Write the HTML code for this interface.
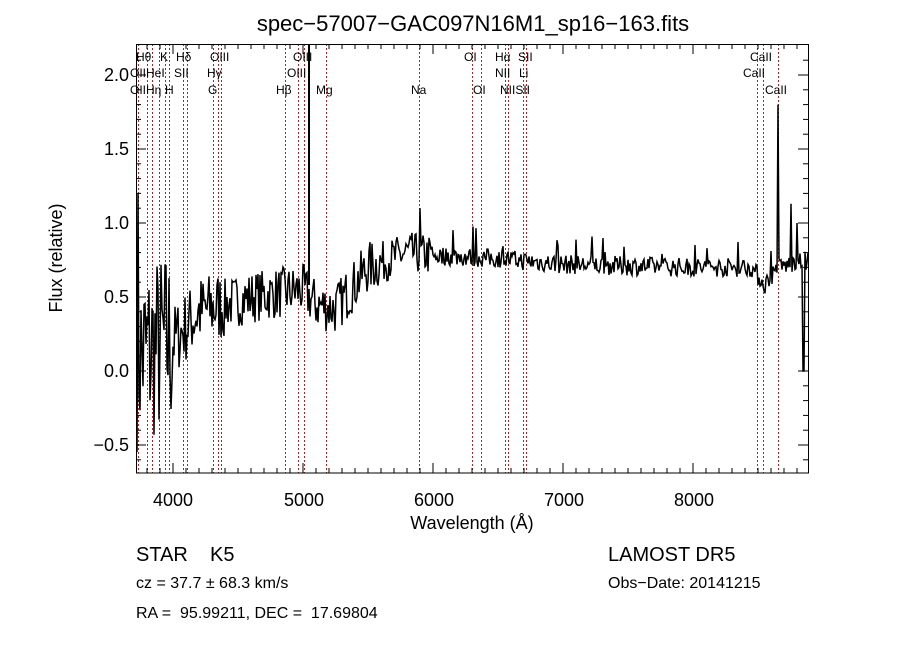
<!DOCTYPE html>
<html><head><meta charset="utf-8"><style>
body{margin:0;background:#fff;width:900px;height:649px;overflow:hidden}
svg text{font-family:"Liberation Sans",sans-serif;fill:#000}
</style></head><body>
<svg id="s" width="900" height="649" xmlns="http://www.w3.org/2000/svg">
<text x="473" y="31" font-size="22" text-anchor="middle">spec−57007−GAC097N16M1_sp16−163.fits</text>
<g id="lines" stroke="#b22222" stroke-width="1" stroke-dasharray="2,2"></g>
<path id="spec" fill="none" stroke="#000" stroke-width="1.5"/>
<line x1="309" y1="44" x2="309" y2="285" stroke="#000" stroke-width="2"/>
<rect x="136.5" y="44.5" width="672" height="428.5" fill="none" stroke="#000" stroke-width="1"/>
<g id="ticks" stroke="#000" stroke-width="1"></g>
<g font-size="18">
<text x="173" y="506" text-anchor="middle">4000</text>
<text x="304" y="506" text-anchor="middle">5000</text>
<text x="434" y="506" text-anchor="middle">6000</text>
<text x="564" y="506" text-anchor="middle">7000</text>
<text x="694" y="506" text-anchor="middle">8000</text>
<text x="129" y="81" text-anchor="end">2.0</text>
<text x="129" y="155" text-anchor="end">1.5</text>
<text x="129" y="229" text-anchor="end">1.0</text>
<text x="129" y="303" text-anchor="end">0.5</text>
<text x="129" y="377" text-anchor="end">0.0</text>
<text x="129" y="451" text-anchor="end">−0.5</text>
<text x="472" y="529" text-anchor="middle">Wavelength (Å)</text>
<text transform="translate(62,258) rotate(-90)" text-anchor="middle">Flux (relative)</text>
</g>
<g font-size="12">
<text x="136" y="61">Hθ</text><text x="160" y="61">K</text><text x="176" y="61">Hδ</text><text x="210" y="61">OIII</text>
<text x="293" y="61">OIII</text><text x="464" y="61">OI</text><text x="495" y="61">Hα</text><text x="518" y="61">SII</text>
<text x="750" y="61">CaII</text>
<text x="130" y="77">OIIHeI</text><text x="174" y="77">SII</text><text x="207" y="77">Hγ</text><text x="287" y="77">OIII</text>
<text x="495" y="77">NII</text><text x="519" y="77">Li</text><text x="743" y="77">CaII</text>
<text x="130" y="94">OIIHη</text><text x="165" y="94">H</text><text x="208" y="94">G</text><text x="276" y="94">Hβ</text>
<text x="316" y="94">Mg</text><text x="411" y="94">Na</text><text x="473" y="94">OI</text><text x="500" y="94">NIISII</text>
<text x="765" y="94">CaII</text>
</g>
<g font-size="20"><text x="136" y="561">STAR</text><text x="210" y="561">K5</text><text x="608" y="561">LAMOST DR5</text></g>
<g font-size="16"><text x="136" y="588">cz = 37.7 ± 68.3 km/s</text>
<text x="608" y="588">Obs−Date: 20141215</text>
<text x="136" y="618" xml:space="preserve">RA =  95.99211, DEC =  17.69804</text></g>
</svg>
<script>
var ns="http://www.w3.org/2000/svg";
var L=[138,147,152,159,165,169,183,187,213,218,221,285,298,304,326,419,472,481,505,508,523,526,757,763,778];
var g=document.getElementById('lines');
L.forEach(function(x){var l=document.createElementNS(ns,'line');l.setAttribute('x1',x+.5);l.setAttribute('x2',x+.5);l.setAttribute('y1',44);l.setAttribute('y2',473);g.appendChild(l);});
var t=document.getElementById('ticks');
function ln(a,b,c,d){var l=document.createElementNS(ns,'line');l.setAttribute('x1',a);l.setAttribute('y1',b);l.setAttribute('x2',c);l.setAttribute('y2',d);t.appendChild(l);}
for(var w=3800;w<=8800;w+=100){var x=173+(w-4000)*0.13,m=w%1000==0?10:5;ln(x,473,x,473-m);ln(x,44,x,44+m);}
for(var v=-0.6;v<=2.2;v+=0.1){var y=371-v*148,m=Math.abs(Math.round(v*10)%5)==0?10:5;ln(136,y,136+m,y);ln(808,y,808-m,y);}
var seed=7;function r(){seed=(seed*16807)%2147483647;return seed/2147483647-0.5;}
function base(w){var k=[[3715,0.1],[4000,0.2],[4200,0.4],[4600,0.5],[5000,0.55],[5100,0.45],[5250,0.42],[5500,0.7],[5800,0.8],[6000,0.78],[6500,0.76],[7000,0.72],[8000,0.7],[8450,0.7],[8550,0.58],[8650,0.7],[8900,0.75]];
for(var i=0;i<k.length-1;i++){if(w<=k[i+1][0]){var f=(w-k[i][0])/(k[i+1][0]-k[i][0]);return k[i][1]+f*(k[i+1][1]-k[i][1]);}}return 0.7;}
var d="";
for(var x=137;x<=808;x+=1){var w=4000+(x-173)/0.13,amp=w<4000?1.3:w<4400?0.5:w<5600?0.35:w<6000?0.28:0.13;
var v=base(w)+r()*amp;
if(w>6000&&r()>0.45)v+=0.15;
if(Math.abs(x-420)<1)v=1.1;if(Math.abs(x-778)<1)v=1.8;if(Math.abs(x-791)<1)v=1.13;if(Math.abs(x-797)<1)v=1.0;if(x>=803&&x<=804)v=0.0;
if(x==138)v=1.2;
d+=(d?"L":"M")+x+","+(371-v*148).toFixed(1);}
document.getElementById('spec').setAttribute('d',d);
</script>
</body></html>
